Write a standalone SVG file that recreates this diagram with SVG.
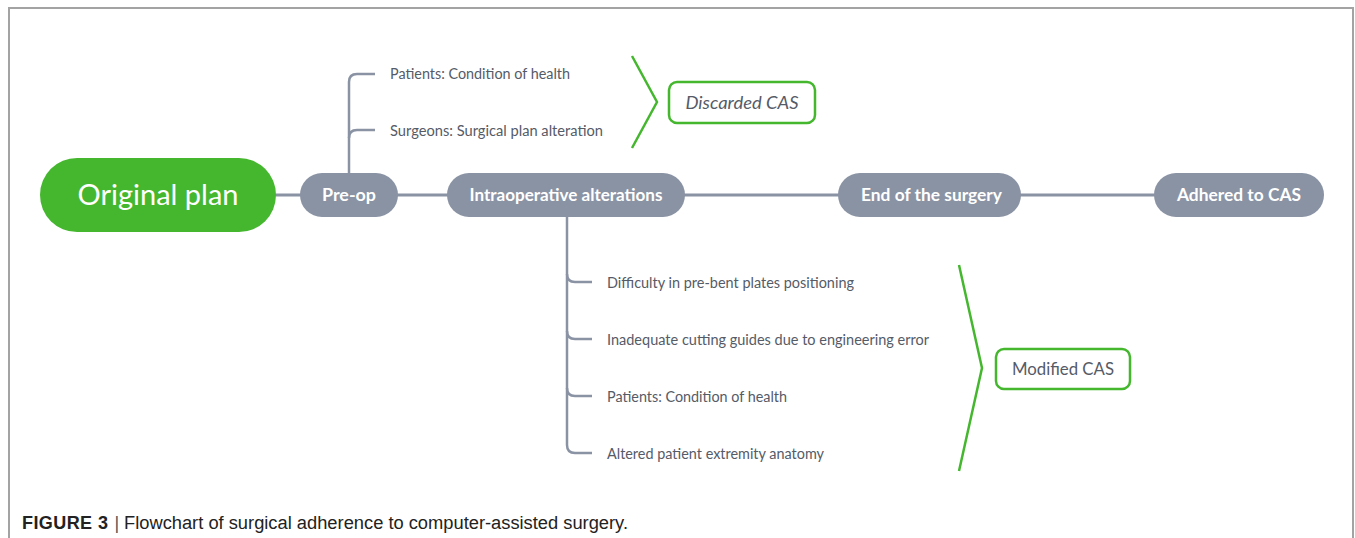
<svg xmlns="http://www.w3.org/2000/svg" width="1355" height="538" viewBox="0 0 1355 538">
  <style>
    .frame { stroke: #a3a3a3; stroke-width: 2; fill: none; }
    .link { stroke: #8a93a4; stroke-width: 3; fill: none; stroke-linecap: round; }
    .branch { stroke: #8a93a4; stroke-width: 2.5; fill: none; }
    .pill { fill: #8a93a4; }
    .pill-text { font-family: Lato, "Open Sans", sans-serif; font-weight: 700; font-size: 16.5px; fill: #ffffff; text-anchor: middle; dominant-baseline: central; }
    .root { fill: #45b72f; }
    .root-text { font-family: Lato, "Open Sans", sans-serif; font-size: 28px; fill: #ffffff; text-anchor: middle; dominant-baseline: central; }
    .leaf { font-family: Lato, "Open Sans", sans-serif; font-size: 14.5px; fill: #555b67; dominant-baseline: central; }
    .brace { stroke: #45b72f; stroke-width: 2.5; fill: none; }
    .outcome { fill: #ffffff; stroke: #45b72f; stroke-width: 2.5; }
    .outcome-text { font-family: Lato, "Open Sans", sans-serif; font-size: 17px; fill: #555b67; text-anchor: middle; dominant-baseline: central; }
    .caption { font-family: "Liberation Sans", Arial, sans-serif; font-size: 18px; fill: #222222; }
  </style>

  <rect width="1355" height="538" fill="#ffffff"/>
  <!-- figure frame (open at the bottom) -->
  <path class="frame" d="M9,540 V8 H1353 V540"/>

  <g id="connectors">
    <!-- main line -->
    <line class="link" x1="276" y1="195" x2="1154" y2="195"/>
    <!-- pre-op branches -->
    <path class="branch" d="M349,173 V82 Q349,74 357,74 H375"/>
    <path class="branch" d="M349,138 Q349,130 357,130 H375"/>
    <!-- intraoperative branches -->
    <path class="branch" d="M567,217 V445 Q567,453 575,453 H592"/>
    <path class="branch" d="M567,274 Q567,282 575,282 H592"/>
    <path class="branch" d="M567,331 Q567,339 575,339 H592"/>
    <path class="branch" d="M567,388 Q567,396 575,396 H592"/>
    <!-- grouping braces -->
    <polyline class="brace" points="632,56 657,102 632,148"/>
    <polyline class="brace" points="959,265 982,368 959,471"/>
  </g>

  <g id="node-original-plan">
    <rect class="root" x="40" y="158" width="236" height="74" rx="37"/>
    <text class="root-text" x="158" y="194" textLength="161" lengthAdjust="spacingAndGlyphs">Original plan</text>
  </g>

  <g id="node-pre-op">
    <rect class="pill" x="300" y="173" width="98" height="44" rx="22"/>
    <text class="pill-text" x="349" y="195" textLength="54" lengthAdjust="spacingAndGlyphs">Pre-op</text>
  </g>

  <g id="node-intraoperative">
    <rect class="pill" x="447" y="173" width="238" height="44" rx="22"/>
    <text class="pill-text" x="566" y="195" textLength="193" lengthAdjust="spacingAndGlyphs">Intraoperative alterations</text>
  </g>

  <g id="node-end">
    <rect class="pill" x="838" y="173" width="183" height="44" rx="22"/>
    <text class="pill-text" x="931.5" y="195" textLength="141" lengthAdjust="spacingAndGlyphs">End of the surgery</text>
  </g>

  <g id="node-adhered">
    <rect class="pill" x="1154" y="173" width="170" height="44" rx="22"/>
    <text class="pill-text" x="1239" y="195" textLength="124" lengthAdjust="spacingAndGlyphs">Adhered to CAS</text>
  </g>

  <g id="leaves-pre-op">
    <text class="leaf" x="390" y="73" textLength="180" lengthAdjust="spacingAndGlyphs">Patients: Condition of health</text>
    <text class="leaf" x="390" y="130" textLength="213" lengthAdjust="spacingAndGlyphs">Surgeons: Surgical plan alteration</text>
  </g>

  <g id="leaves-intraoperative">
    <text class="leaf" x="607" y="282" textLength="247" lengthAdjust="spacingAndGlyphs">Difficulty in pre-bent plates positioning</text>
    <text class="leaf" x="607" y="339" textLength="322" lengthAdjust="spacingAndGlyphs">Inadequate cutting guides due to engineering error</text>
    <text class="leaf" x="607" y="396" textLength="180" lengthAdjust="spacingAndGlyphs">Patients: Condition of health</text>
    <text class="leaf" x="607" y="453" textLength="217" lengthAdjust="spacingAndGlyphs">Altered patient extremity anatomy</text>
  </g>

  <g id="node-discarded">
    <rect class="outcome" x="669" y="82" width="146" height="41" rx="8"/>
    <text class="outcome-text" x="742" y="102" font-style="italic" textLength="113" lengthAdjust="spacingAndGlyphs">Discarded CAS</text>
  </g>

  <g id="node-modified">
    <rect class="outcome" x="996" y="349" width="134" height="40" rx="8"/>
    <text class="outcome-text" x="1063" y="368" textLength="102" lengthAdjust="spacingAndGlyphs">Modified CAS</text>
  </g>

  <text class="caption" x="22" y="529"><tspan font-weight="700" textLength="86">FIGURE 3</tspan><tspan dx="6" fill="#555555">|</tspan><tspan x="124" textLength="504" lengthAdjust="spacingAndGlyphs">Flowchart of surgical adherence to computer-assisted surgery.</tspan></text>
</svg>
